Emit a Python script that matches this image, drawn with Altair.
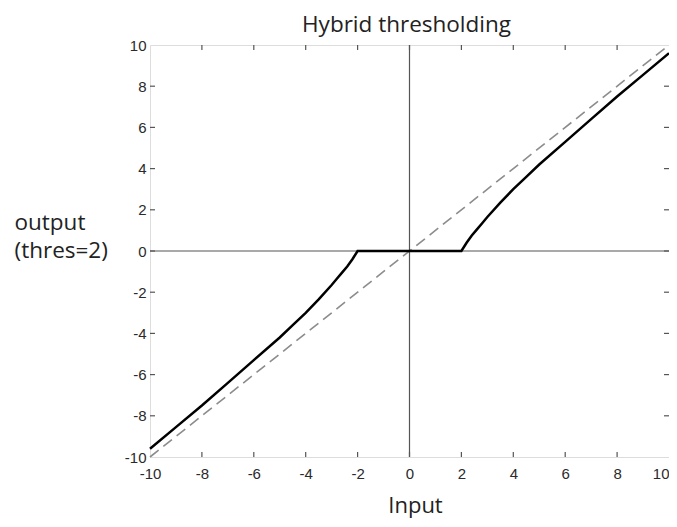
import altair as alt
import pandas as pd

# curve values
curve_x = [-10, -9, -8, -7, -6, -5, -4.5, -4, -3.5, -3, -2.8, -2.6, -2.4, -2.2, -2, 0,
           2, 2.2, 2.4, 2.6, 2.8, 3, 3.5, 4, 4.5, 5, 6, 7, 8, 9, 10]
curve_y = [-9.6, -8.55, -7.5, -6.4, -5.3, -4.2, -3.6, -3.0, -2.35, -1.65, -1.35, -1.05, -0.75, -0.4, 0, 0,
           0, 0.4, 0.75, 1.05, 1.35, 1.65, 2.35, 3.0, 3.6, 4.2, 5.3, 6.4, 7.5, 8.55, 9.6]
ident_x = [-10, 10]
ident_y = [-10, 10]
tick_values = [-10, -8, -6, -4, -2, 0, 2, 4, 6, 8, 10]
inner_ticks = [-8, -6, -4, -2, 0, 2, 4, 6, 8]
zero = [0]
title_text = "Hybrid thresholding"

W, H = 519, 412
DOM = [-10, 10]
TICKLEN = 5
GRAY = "#555555"

curve_df = pd.DataFrame({"x": curve_x, "y": curve_y})
ident_df = pd.DataFrame({"x": ident_x, "y": ident_y})
ticks_df = pd.DataFrame({"t": inner_ticks})
zero_df = pd.DataFrame({"z": zero})

xs = alt.Scale(domain=DOM, nice=False, zero=False)
ys = alt.Scale(domain=DOM, nice=False, zero=False)

x_axis = alt.Axis(
    values=tick_values, ticks=False, domain=False, grid=False,
    labelExpr="datum.value + ''",
    labelAlign=alt.condition("datum.value == 10", alt.value("right"), alt.value("center")),
    labelFont="Liberation Sans", labelFontSize=15, labelColor="#2a2a2a",
    labelPadding=9, labelFlush=False, labelOverlap=False,
    title="Input", titleFont="Open Sans", titleFontSize=22, titleFontWeight="normal",
    titleColor="#222222", titleBaseline="alphabetic", titleY=55, titleX=265, titleAlign="center",
)
y_axis = alt.Axis(
    values=tick_values, ticks=False, domain=False, grid=False,
    labelExpr="datum.value + ''",
    labelFont="Liberation Sans", labelFontSize=15, labelColor="#2a2a2a",
    labelPadding=4, labelFlush=False, labelOverlap=False,
    title=["output", "(thres=2)"], titleFont="Open Sans", titleFontSize=22.5,
    titleFontWeight="normal", titleColor="#222222", titleAngle=0, titleAlign="left",
    titleBaseline="alphabetic", titleX=-136, titleY=184, titleLineHeight=28,
)

ident = alt.Chart(ident_df).mark_line(
    color="#8c8c8c", strokeWidth=1.6, strokeDash=[11, 6]
).encode(
    x=alt.X("x:Q", scale=xs, axis=x_axis),
    y=alt.Y("y:Q", scale=ys, axis=y_axis),
)

vzero = alt.Chart(zero_df).mark_rule(color=GRAY, strokeWidth=1.2).encode(
    x=alt.X("z:Q", scale=xs)
)
hzero = alt.Chart(zero_df).mark_rule(color=GRAY, strokeWidth=1.2).encode(
    y=alt.Y("z:Q", scale=ys)
)

curve = alt.Chart(curve_df).mark_line(color="black", strokeWidth=2.5).encode(
    x=alt.X("x:Q", scale=xs),
    y=alt.Y("y:Q", scale=ys),
)

tick_bottom = alt.Chart(ticks_df).mark_rule(color=GRAY, strokeWidth=1.2).encode(
    x=alt.X("t:Q", scale=xs), y=alt.value(H), y2=alt.value(H - TICKLEN)
)
tick_top = alt.Chart(ticks_df).mark_rule(color=GRAY, strokeWidth=1.2).encode(
    x=alt.X("t:Q", scale=xs), y=alt.value(0), y2=alt.value(TICKLEN)
)
tick_left = alt.Chart(ticks_df).mark_rule(color=GRAY, strokeWidth=1.2).encode(
    y=alt.Y("t:Q", scale=ys), x=alt.value(0), x2=alt.value(TICKLEN)
)
tick_right = alt.Chart(ticks_df).mark_rule(color=GRAY, strokeWidth=1.2).encode(
    y=alt.Y("t:Q", scale=ys), x=alt.value(W), x2=alt.value(W - TICKLEN)
)

title_mark = alt.Chart(zero_df).mark_text(
    font="Open Sans", fontSize=22.5, color="#222222", align="center", baseline="alphabetic"
).encode(
    x=alt.value(W / 2 - 3), y=alt.value(-13), text=alt.value(title_text)
)

chart = alt.layer(
    ident, vzero, hzero, tick_bottom, tick_top, tick_left, tick_right, curve, title_mark
).properties(
    width=W, height=H,
    autosize=alt.AutoSizeParams(type="none"),
    padding={"left": 142, "top": 37, "right": 0, "bottom": 62},
).configure_view(
    stroke=GRAY, strokeWidth=1.5
).configure(background="white")

chart.save("out.html", embed_options={"renderer": "svg", "actions": False})
